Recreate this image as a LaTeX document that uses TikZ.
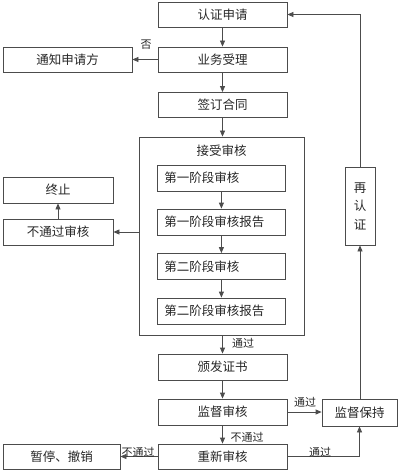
\documentclass[tikz,border=0pt]{standalone}
\usepackage{fontspec}
\setmainfont{Noto Sans CJK SC}
\usetikzlibrary{arrows.meta}
\begin{document}
\begin{tikzpicture}[x=1pt,y=-1pt,
  box/.style={draw=black!70, line width=0.8pt, inner sep=0pt, font=\fontsize{12.5}{14}\selectfont, text=black!85},
  inbox/.style={box, minimum height=26, inner xsep=7pt, text width=114pt, align=left, anchor=west},
  conn/.style={draw=black!70, line width=0.8pt, -{Triangle[length=6pt,width=5pt]}},
  lbl/.style={font=\fontsize{11}{12}\selectfont, text=black!85, inner sep=1pt}]
\useasboundingbox (0,0) rectangle (400,473);
% main column
\node[box, minimum width=129, minimum height=25] (a) at (222.5,14.5) {认证申请};
\node[box, minimum width=129, minimum height=25] (b) at (222.5,59.5) {业务受理};
\node[box, minimum width=129, minimum height=25] (c) at (222.5,105) {签订合同};
\node[box, minimum width=129, minimum height=25] (n) at (67.5,59.5) {通知申请方};
% big box
\node[box, minimum width=165, minimum height=198] (big) at (221.5,236) {};
\node[box, draw=none] (bigt) at (221.5,151) {接受审核};
\node[inbox] (s1) at (157,178) {第一阶段审核};
\node[inbox] (r1) at (157,222) {第一阶段审核报告};
\node[inbox] (s2) at (157,266.5) {第二阶段审核};
\node[inbox] (r2) at (157,311) {第二阶段审核报告};
\node[box, minimum width=110, minimum height=26] (stop) at (58,190) {终止};
\node[box, minimum width=110, minimum height=26] (fail) at (58,232) {不通过审核};
% lower
\node[box, minimum width=129, minimum height=26] (issue) at (222.5,367) {颁发证书};
\node[box, minimum width=129, minimum height=26] (sup) at (222.5,412) {监督审核};
\node[box, minimum width=129, minimum height=25] (re) at (222.5,456.5) {重新审核};
\node[box, minimum width=117, minimum height=25] (susp) at (61.5,456.5) {暂停、撤销};
\node[box, minimum width=75, minimum height=27] (keep) at (359.5,412.5) {监督保持};
\node[box, minimum width=30, minimum height=78, align=center, font=\fontsize{12.5}{18.5}\selectfont] (rec) at (360,206) {再\\认\\证};
% connectors
\draw[conn] (a) -- (b);
\draw[conn] (b.west) -- (n.east);
\node[lbl] (no) at (146,45) {否};
\draw[conn] (b) -- (c);
\draw[conn] (c.south) -- (c.south |- big.north);
\draw[conn] (s1.south -| r1) -- (r1);
\draw[conn] (r1) -- (s2);
\draw[conn] (s2) -- (r2);
\draw[conn] (big.west |- fail.east) -- (fail.east);
\draw[conn] (fail) -- (stop);
\draw[conn] (big.south -| issue) -- (issue);
\node[lbl] (p1) at (243,343) {通过};
\draw[conn] (issue) -- (sup);
\draw[conn] (sup.east) -- (sup.east -| keep.west);
\node[lbl] (p2) at (305,402) {通过};
\draw[conn] (sup) -- (re);
\node[lbl] (f1) at (247,437) {不通过};
\draw[conn] (re.west) -- (susp.east);
\node[lbl] (f2) at (138,452) {不通过};
\draw[conn] (re.east) -| (keep.south);
\node[lbl] (p3) at (320,452) {通过};
\draw[conn] (keep.north -| rec) -- (rec.south);
\draw[conn] (rec.north) |- (a.east);
\end{tikzpicture}
\end{document}
